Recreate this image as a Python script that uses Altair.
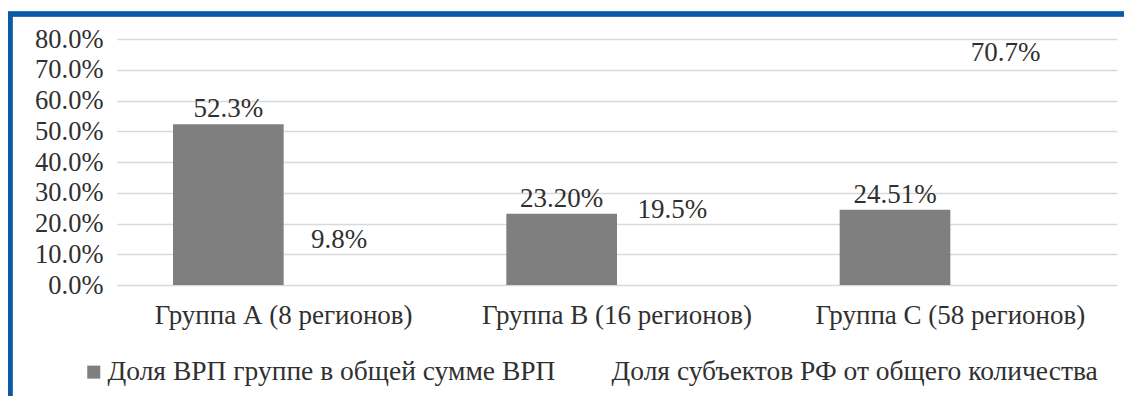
import altair as alt
import pandas as pd

categories = ["Группа А (8 регионов)", "Группа В (16 регионов)", "Группа С (58 регионов)"]
series = ["Доля ВРП группе в общей сумме ВРП", "Доля субъектов РФ от общего количества"]
vrp_share = [52.3, 23.20, 24.51]
vrp_labels = ["52.3%", "23.20%", "24.51%"]
subj_share = [9.8, 19.5, 70.7]
subj_labels = ["9.8%", "19.5%", "70.7%"]
y_ticks = [0, 10, 20, 30, 40, 50, 60, 70, 80]

rows = []
for i, c in enumerate(categories):
    rows.append({"cat": c, "series": series[0], "value": vrp_share[i], "label": vrp_labels[i], "order": 0})
    rows.append({"cat": c, "series": series[1], "value": subj_share[i], "label": subj_labels[i], "order": 1})
df = pd.DataFrame(rows)

FONT = "Liberation Serif"
FS = 27
TXT = "#303030"

x = alt.X("cat:N", sort=categories, title=None,
          scale=alt.Scale(paddingInner=0.336, paddingOuter=0.168),
          axis=alt.Axis(labelAngle=0, labelFont=FONT, labelFontSize=FS, labelColor=TXT,
                        ticks=False, domain=False, labelPadding=17, labelLimit=400))
xoff = alt.XOffset("series:N", sort=series, scale=alt.Scale(paddingInner=0, paddingOuter=0))
y = alt.Y("value:Q", title=None,
          scale=alt.Scale(domain=[0, 80], nice=False),
          axis=alt.Axis(values=y_ticks, labelExpr="format(datum.value, '.1f') + '%'",
                        labelFont=FONT, labelFontSize=26.5, labelColor=TXT,
                        ticks=False, domain=False, labelPadding=14,
                        grid=True, gridColor="#d9d9d9", gridWidth=1.5))

bars = alt.Chart(df).mark_bar().encode(
    x=x, xOffset=xoff, y=y,
    color=alt.Color("series:N", sort=series,
                    scale=alt.Scale(domain=series, range=["#7f7f7f", "#ffffff00"]),
                    legend=alt.Legend(title=None, orient="none", direction="horizontal",
                                      legendX=-37, legendY=319,
                                      symbolType="square", symbolSize=169,
                                      symbolStrokeWidth=0,
                                      labelFont=FONT, labelFontSize=27.5, labelColor=TXT,
                                      labelOffset=0, columnPadding=28, labelLimit=600)),
)

labels = alt.Chart(df).mark_text(font=FONT, fontSize=FS, color=TXT,
                                 baseline="alphabetic", dy=-7).encode(
    x=x, xOffset=xoff, y=y, text="label:N"
)

border_top = alt.Chart(df).mark_rule(color="#0a5aa8", strokeWidth=4.5).encode(
    x=alt.value(-109), x2=alt.value(1020), y=alt.value(-25)
)
border_left = alt.Chart(df).mark_rule(color="#0a5aa8", strokeWidth=4.5).encode(
    x=alt.value(-107), y=alt.value(-27), y2=alt.value(380)
)

chart = alt.layer(bars, labels, border_top, border_left).properties(
    width=1000, height=246,
    autosize=alt.AutoSizeParams(type="none"),
    padding={"left": 109, "top": 31, "right": 7, "bottom": 111},
).configure_view(stroke=None)

chart.save("out.html", embed_options={"renderer": "svg", "actions": False})
